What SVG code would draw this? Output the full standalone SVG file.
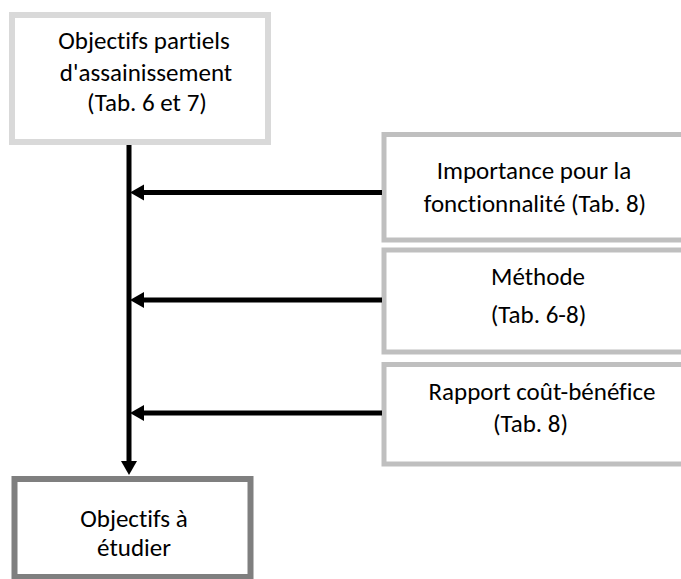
<svg xmlns="http://www.w3.org/2000/svg" width="681" height="579" viewBox="0 0 681 579">
  <style>
    .txt { font-family: Carlito, Lato, "Open Sans", sans-serif; font-size: 25px; fill: #000; text-anchor: middle; font-variant-ligatures: none; font-feature-settings: "liga" 0, "dlig" 0; }
    .box { fill: #fff; }
    .src { stroke: #d9d9d9; stroke-width: 6; }
    .crit { stroke: #bfbfbf; stroke-width: 5; }
    .out { stroke: #7f7f7f; stroke-width: 6; }
    .link { stroke: #000; stroke-width: 5; fill: none; }
  </style>
  <defs>
    <marker id="head" markerUnits="userSpaceOnUse" markerWidth="14" markerHeight="16" refX="0" refY="8" orient="auto" overflow="visible">
      <path d="M0,0 L14,8 L0,16 z" fill="#000"/>
    </marker>
  </defs>

  <!-- source node -->
  <g id="partial-objectives">
    <rect class="box src" x="12" y="15" width="256" height="127"/>
    <text class="txt" x="144" y="49">Objectifs partiels</text>
    <text class="txt" x="146" y="81">d'assainissement</text>
    <text class="txt" x="147" y="111">(Tab. 6 et 7)</text>
  </g>

  <!-- criteria nodes, open to the right edge -->
  <g id="importance">
    <rect class="box crit" x="384" y="134.5" width="320" height="105.5"/>
    <text class="txt" x="534" y="179">Importance pour la</text>
    <text class="txt" x="535" y="212">fonctionnalité (Tab. 8)</text>
  </g>
  <g id="method">
    <rect class="box crit" x="384" y="250" width="320" height="102"/>
    <text class="txt" x="538" y="285">Méthode</text>
    <text class="txt" x="538.5" y="323">(Tab. 6-8)</text>
  </g>
  <g id="cost-benefit">
    <rect class="box crit" x="384" y="364.5" width="320" height="99.5"/>
    <text class="txt" x="542" y="400">Rapport coût-bénéfice</text>
    <text class="txt" x="530.5" y="432">(Tab. 8)</text>
  </g>

  <!-- result node -->
  <g id="objectives-to-study">
    <rect class="box out" x="14.5" y="479" width="236" height="98"/>
    <text class="txt" x="134" y="527">Objectifs à</text>
    <text class="txt" x="134" y="556">étudier</text>
  </g>

  <!-- connectors -->
  <g id="connectors">
    <line class="link" x1="129" y1="145" x2="129" y2="461" marker-end="url(#head)"/>
    <line class="link" x1="382" y1="192.5" x2="144" y2="192.5" marker-end="url(#head)"/>
    <line class="link" x1="382" y1="300" x2="144" y2="300" marker-end="url(#head)"/>
    <line class="link" x1="382" y1="413" x2="144" y2="413" marker-end="url(#head)"/>
  </g>
</svg>
